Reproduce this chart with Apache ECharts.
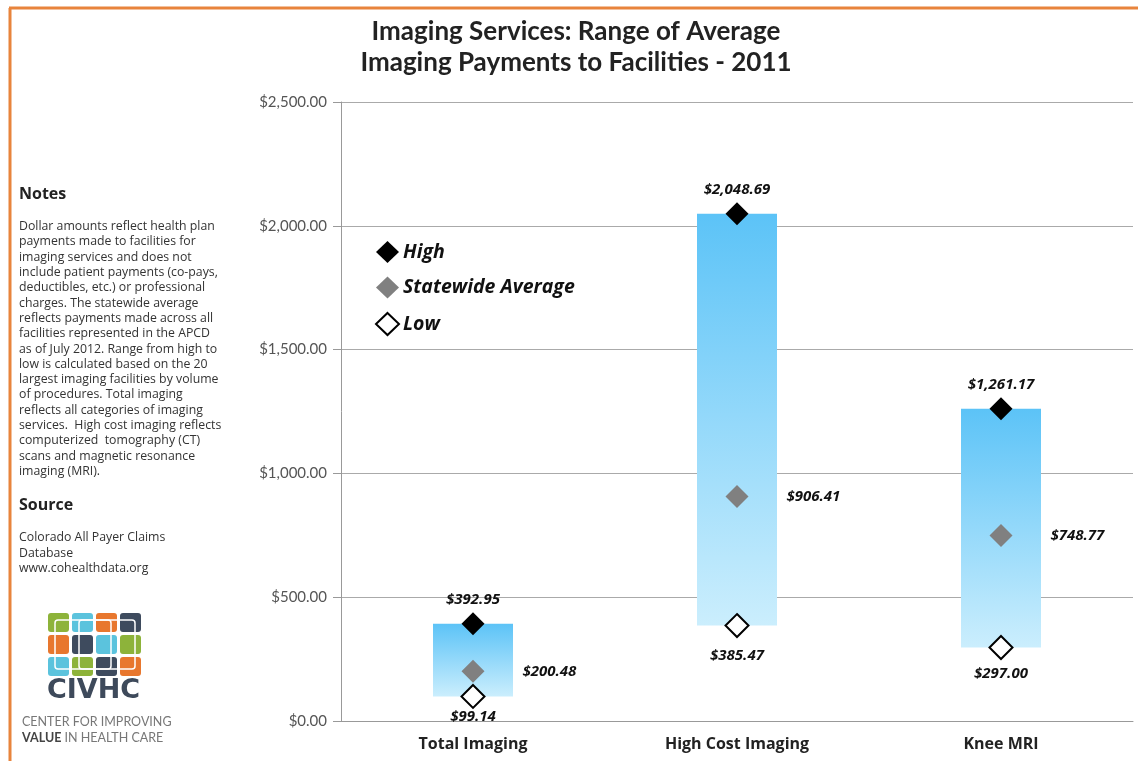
<!DOCTYPE html>
<html>
<head>
<meta charset="utf-8">
<script src="https://cdn.jsdelivr.net/npm/echarts@6/dist/echarts.min.js"></script>
<style>
html,body{margin:0;padding:0;background:#fff;}
#c{width:1138px;height:761px;}
</style>
</head>
<body>
<div id="c"></div>
<script>
var categories = ['Total Imaging', 'High Cost Imaging', 'Knee MRI'];
var highValues = [392.95, 2048.69, 1261.17];
var avgValues = [200.48, 906.41, 748.77];
var lowValues = [99.14, 385.47, 297.00];
var yTicks = [0, 500, 1000, 1500, 2000, 2500];

var titleLines = ['Imaging Services: Range of Average', 'Imaging Payments to Facilities - 2011'];
var notesText = [
  'Dollar amounts reflect health plan',
  'payments made to facilities for',
  'imaging services and does not',
  'include patient payments (co-pays,',
  'deductibles, etc.) or professional',
  'charges. The statewide average',
  'reflects payments made across all',
  'facilities represented in the APCD',
  'as of July 2012. Range from high to',
  'low is calculated based on the 20',
  'largest imaging facilities by volume',
  'of procedures. Total imaging',
  'reflects all categories of imaging',
  'services.  High cost imaging reflects',
  'computerized  tomography (CT)',
  'scans and magnetic resonance',
  'imaging (MRI).'
];
var sourceText = ['Colorado All Payer Claims', 'Database', 'www.cohealthdata.org'];

function money(v) {
  return '$' + v.toLocaleString('en-US', {minimumFractionDigits: 2, maximumFractionDigits: 2});
}

var rangeValues = highValues.map(function (h, i) { return +(h - lowValues[i]).toFixed(2); });
var lowLabelDist = [0, 10, 6];

var labelFont = {fontFamily: 'Open Sans', fontWeight: 'bold', fontStyle: 'italic', fontSize: 15, color: '#111'};

// logo
var logoColors = [
  ['#8DB33A', '#5BC3DD', '#E8772E', '#3E4B5E'],
  ['#E8772E', '#3E4B5E', '#5BC3DD', '#8DB33A'],
  ['#5BC3DD', '#8DB33A', '#3E4B5E', '#E8772E']
];
var logoEls = [];
logoColors.forEach(function (row, r) {
  row.forEach(function (col, c) {
    logoEls.push({
      type: 'rect',
      shape: {x: 48 + c * 24, y: 613 + r * 22, width: 21, height: 19, r: 3},
      style: {fill: col}
    });
  });
});
logoEls.push({type: 'rect', shape: {x: 55, y: 620, width: 80, height: 49, r: 3}, style: {fill: 'none', stroke: '#fff', lineWidth: 1.5}});
logoEls.push({type: 'rect', shape: {x: 79, y: 620, width: 32, height: 49, r: 3}, style: {fill: 'none', stroke: '#fff', lineWidth: 1.5}});

var chart = echarts.init(document.getElementById('c'), null, {renderer: 'canvas'});
chart.setOption({
  backgroundColor: '#fff',
  animation: false,
  grid: {left: 341, right: 5, top: 102, bottom: 40, containLabel: false},
  legend: {
    data: ['High', 'Statewide Average', 'Low'],
    orient: 'vertical',
    left: 375,
    top: 241,
    padding: 0,
    itemWidth: 23,
    itemHeight: 22,
    itemGap: 13.5,
    textStyle: {fontFamily: 'Open Sans', fontWeight: 'bold', fontStyle: 'italic', fontSize: 19.5, lineHeight: 22, color: '#111', padding: [0, 0, 0, -1]},
    selectedMode: false
  },
  xAxis: {
    type: 'category',
    data: categories,
    axisLine: {show: true, lineStyle: {color: '#999'}},
    axisTick: {show: false},
    axisLabel: {fontFamily: 'Open Sans', fontWeight: 'bold', fontSize: 16, color: '#222', margin: 15}
  },
  yAxis: {
    type: 'value',
    min: yTicks[0],
    max: yTicks[yTicks.length - 1],
    interval: 500,
    axisLine: {show: true, lineStyle: {color: '#999'}},
    axisTick: {show: true, length: 8, lineStyle: {color: '#999'}},
    splitLine: {show: true, lineStyle: {color: '#aaa', width: 1}},
    axisLabel: {formatter: function (v) { return money(v); }, fontFamily: 'Lato', fontSize: 15, color: '#555', margin: 14}
  },
  series: [
    {
      name: 'base', type: 'bar', stack: 'r', data: lowValues, barWidth: 80,
      itemStyle: {color: 'transparent'}, silent: true
    },
    {
      name: 'range', type: 'bar', stack: 'r', data: rangeValues, barWidth: 80,
      itemStyle: {
        color: new echarts.graphic.LinearGradient(0, 0, 0, 1, [
          {offset: 0, color: '#5CC3F7'},
          {offset: 1, color: '#CBEEFD'}
        ])
      }
    },
    {
      name: 'High', type: 'scatter', data: highValues, symbol: 'diamond', symbolSize: [23, 23], z: 5,
      itemStyle: {color: '#000', opacity: 1},
      label: Object.assign({show: true, position: 'top', distance: 5, formatter: function (p) { return money(p.value); }}, labelFont)
    },
    {
      name: 'Statewide Average', type: 'scatter', data: avgValues, symbol: 'diamond', symbolSize: [23, 23], z: 5,
      itemStyle: {color: '#808080', opacity: 1},
      label: Object.assign({show: true, position: 'right', distance: 38, formatter: function (p) { return money(p.value); }}, labelFont)
    },
    {
      name: 'Low', type: 'scatter', symbol: 'diamond', symbolSize: [23, 23], z: 5,
      data: lowValues.map(function (v, i) { return {value: v, label: {distance: lowLabelDist[i]}}; }),
      itemStyle: {color: '#fff', borderColor: '#000', borderWidth: 2, opacity: 1},
      label: Object.assign({show: true, position: 'bottom', distance: 6, formatter: function (p) { return money(p.value); }}, labelFont)
    }
  ],
  graphic: [
    {type: 'line', shape: {x1: 9, y1: 8, x2: 1138, y2: 8}, style: {stroke: '#E8843C', lineWidth: 3}},
    {type: 'line', shape: {x1: 10, y1: 8, x2: 10, y2: 761}, style: {stroke: '#E8843C', lineWidth: 3}},
    {type: 'text', x: 576, y: 16, style: {text: titleLines.join('\n'), fontFamily: 'Lato', fontWeight: 'bold', fontSize: 26, lineHeight: 31, fill: '#222', align: 'center'}},
    {type: 'text', left: 19, top: 186, style: {text: 'Notes', fontFamily: 'Open Sans', fontWeight: 'bold', fontSize: 16, fill: '#222'}},
    {type: 'text', left: 19, top: 219, style: {text: notesText.join('\n'), fontFamily: 'Open Sans', fontSize: 12.3, lineHeight: 15.3, fill: '#333'}},
    {type: 'text', left: 19, top: 497, style: {text: 'Source', fontFamily: 'Open Sans', fontWeight: 'bold', fontSize: 16, fill: '#222'}},
    {type: 'text', left: 19, top: 530, style: {text: sourceText.join('\n'), fontFamily: 'Open Sans', fontSize: 12.3, lineHeight: 15.5, fill: '#333'}},
    {type: 'group', children: logoEls},
    {type: 'text', left: 47, top: 677, style: {text: 'CIVHC', fontFamily: 'DejaVu Sans', fontWeight: 'bold', fontSize: 27, fill: '#3E4A5B'}},
    {type: 'text', left: 22, top: 715, style: {text: 'CENTER FOR IMPROVING', fontFamily: 'Lato', fontSize: 12.5, fill: '#777'}},
    {type: 'text', left: 22, top: 731, style: {
      text: '{b|VALUE} IN HEALTH CARE', fontFamily: 'Lato', fontSize: 12.5, fill: '#777',
      rich: {b: {fontFamily: 'Lato', fontWeight: 'bold', fontSize: 12.5, fill: '#444'}}
    }}
  ]
});
</script>
</body>
</html>
